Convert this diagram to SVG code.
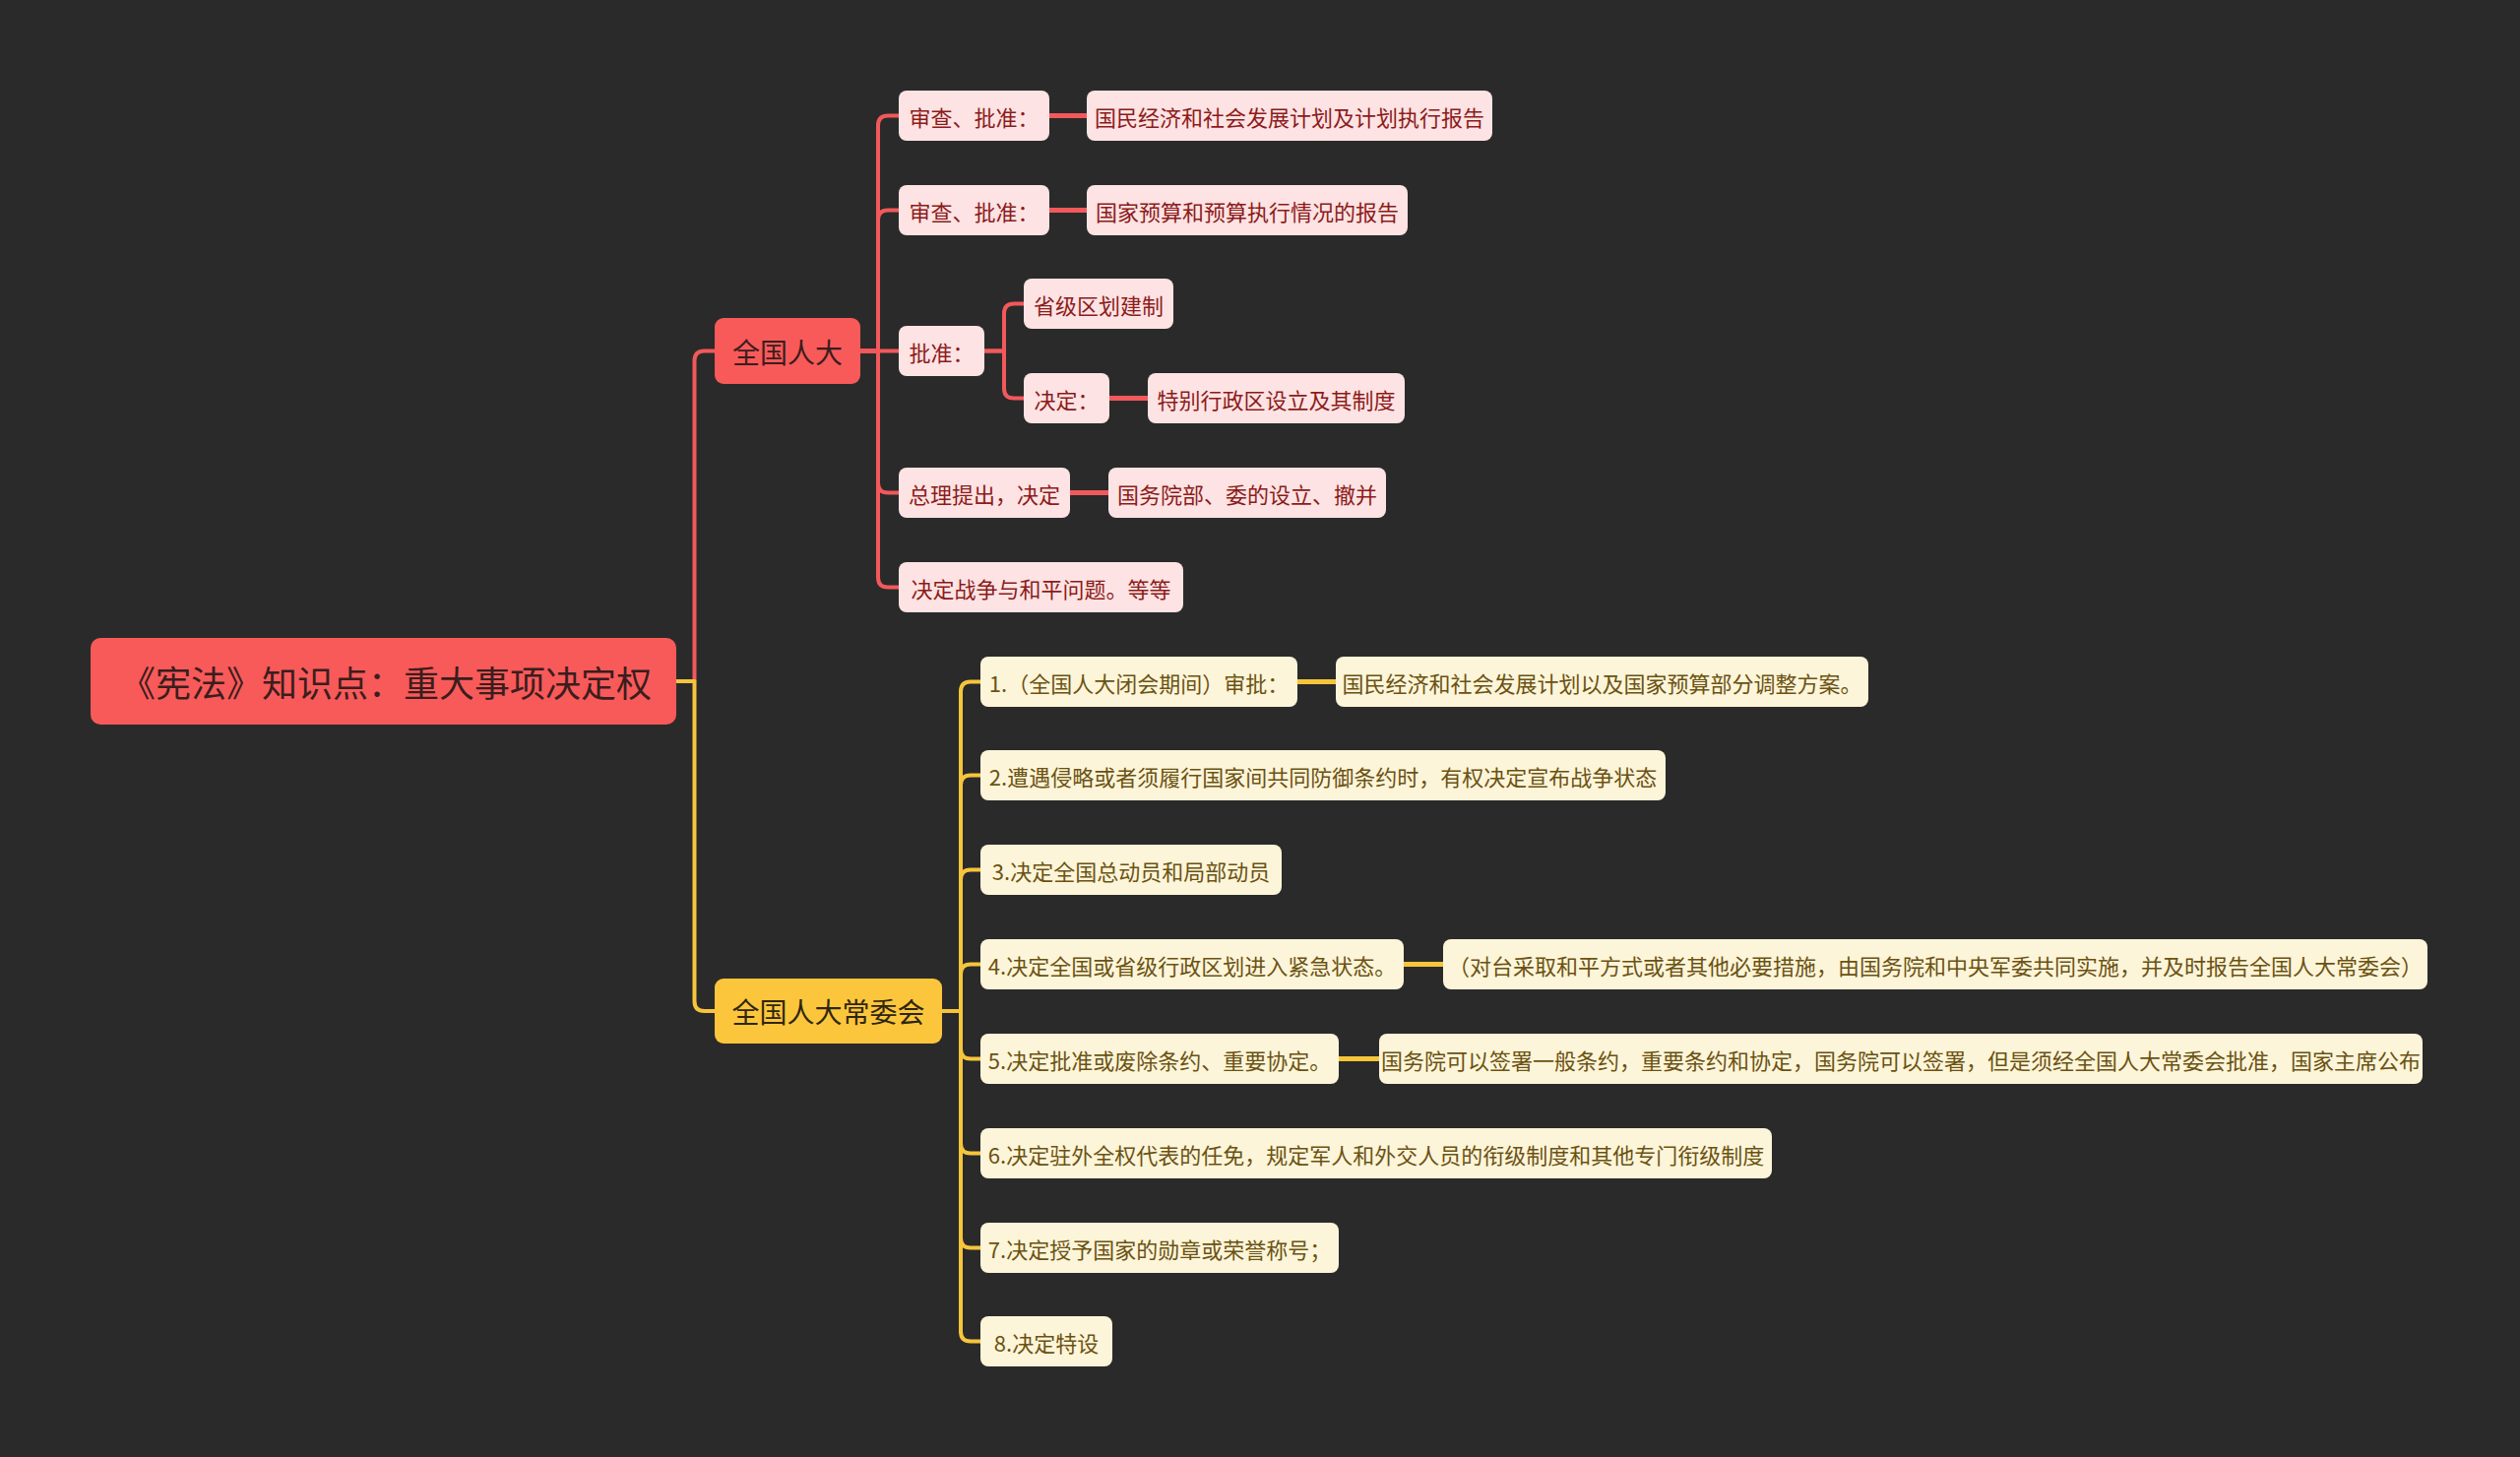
<svg xmlns="http://www.w3.org/2000/svg" width="2560" height="1480" viewBox="0 0 2560 1480">
<style>
text{font-family:"Noto Sans CJK SC","Noto Sans",sans-serif;dominant-baseline:central;text-anchor:middle}
.root rect{fill:#f85a5a}
.root text{font-size:36px;fill:#3b1d1d}
.l1r rect{fill:#f85a5a}
.l1r text{font-size:28px;fill:#3b1d1d}
.l1y rect{fill:#fcc63c}
.l1y text{font-size:28px;fill:#2f2610}
.pk rect{fill:#fde3e3}
.pk text{font-size:22px;fill:#8c1b1b}
.yl rect{fill:#fdf5d9}
.yl text{font-size:22px;fill:#6b5213}
.cr{fill:none;stroke:#f2595b;stroke-width:4;stroke-linejoin:round}
.cy{fill:none;stroke:#f6c53b;stroke-width:4;stroke-linejoin:round}
.thick{stroke-width:5}
</style>
<rect x="0" y="0" width="2560" height="1480" fill="#2a2a2a"/>
<g id="connectors">
  <!-- root -> 全国人大 -->
  <path class="cr" d="M687 692 H705.5 V366.5 Q705.5 356.5 715.5 356.5 H726"/>
  <!-- root -> 全国人大常委会 -->
  <path class="cy" d="M687 692 H705.5 V1017 Q705.5 1027 715.5 1027 H726"/>
  <!-- 全国人大 children -->
  <path class="cr" d="M874 356.5 H892 V127.5 Q892 117.5 902 117.5 H913"/>
  <path class="cr" d="M874 356.5 H892 V223.5 Q892 213.5 902 213.5 H913"/>
  <path class="cr" d="M874 356.5 H913"/>
  <path class="cr" d="M874 356.5 H892 V490.5 Q892 500.5 902 500.5 H913"/>
  <path class="cr" d="M874 356.5 H892 V586.5 Q892 596.5 902 596.5 H913"/>
  <path class="cr thick" d="M1066 117.5 H1104"/>
  <path class="cr thick" d="M1066 213.5 H1104"/>
  <!-- 批准 children -->
  <path class="cr" d="M1000 356.5 H1020 V318.5 Q1020 308.5 1030 308.5 H1040"/>
  <path class="cr" d="M1000 356.5 H1020 V394.5 Q1020 404.5 1030 404.5 H1040"/>
  <path class="cr thick" d="M1127 404.5 H1166"/>
  <path class="cr thick" d="M1087 500.5 H1126"/>
  <!-- 全国人大常委会 children -->
  <path class="cy" d="M957 1027 H976 V702.5 Q976 692.5 986 692.5 H996"/>
  <path class="cy" d="M957 1027 H976 V797.5 Q976 787.5 986 787.5 H996"/>
  <path class="cy" d="M957 1027 H976 V893.5 Q976 883.5 986 883.5 H996"/>
  <path class="cy" d="M957 1027 H976 V989.5 Q976 979.5 986 979.5 H996"/>
  <path class="cy" d="M957 1027 H976 V1065.5 Q976 1075.5 986 1075.5 H996"/>
  <path class="cy" d="M957 1027 H976 V1161.5 Q976 1171.5 986 1171.5 H996"/>
  <path class="cy" d="M957 1027 H976 V1257.5 Q976 1267.5 986 1267.5 H996"/>
  <path class="cy" d="M957 1027 H976 V1352.5 Q976 1362.5 986 1362.5 H996"/>
  <path class="cy thick" d="M1318 692.5 H1357"/>
  <path class="cy thick" d="M1426 979.5 H1466"/>
  <path class="cy thick" d="M1360 1075.5 H1401"/>
</g>
<g id="root" class="root"><rect x="92" y="648" width="595" height="88" rx="10"/><text x="392" y="692">《宪法》知识点：重大事项决定权</text></g>
<g id="n-qgrd" class="l1r"><rect x="726" y="323" width="148" height="67" rx="9"/><text x="800" y="356.5">全国人大</text></g>
<g id="n-qgrdcwh" class="l1y"><rect x="726" y="994" width="231" height="66" rx="9"/><text x="841.5" y="1027">全国人大常委会</text></g>

<g id="r1" class="pk"><rect x="913" y="92" width="153" height="51" rx="8"/><text x="989.5" y="117.5">审查、批准：</text></g>
<g id="r1a" class="pk"><rect x="1104" y="92" width="412" height="51" rx="8"/><text x="1310" y="117.5">国民经济和社会发展计划及计划执行报告</text></g>
<g id="r2" class="pk"><rect x="913" y="188" width="153" height="51" rx="8"/><text x="989.5" y="213.5">审查、批准：</text></g>
<g id="r2a" class="pk"><rect x="1104" y="188" width="326" height="51" rx="8"/><text x="1267" y="213.5">国家预算和预算执行情况的报告</text></g>
<g id="r3" class="pk"><rect x="913" y="331" width="87" height="51" rx="8"/><text x="956.5" y="356.5">批准：</text></g>
<g id="r3a" class="pk"><rect x="1040" y="283" width="152" height="51" rx="8"/><text x="1116" y="308.5">省级区划建制</text></g>
<g id="r3b" class="pk"><rect x="1040" y="379" width="87" height="51" rx="8"/><text x="1083.5" y="404.5">决定：</text></g>
<g id="r3b1" class="pk"><rect x="1166" y="379" width="261" height="51" rx="8"/><text x="1296.5" y="404.5">特别行政区设立及其制度</text></g>
<g id="r4" class="pk"><rect x="913" y="475" width="174" height="51" rx="8"/><text x="1000" y="500.5">总理提出，决定</text></g>
<g id="r4a" class="pk"><rect x="1126" y="475" width="282" height="51" rx="8"/><text x="1267" y="500.5">国务院部、委的设立、撤并</text></g>
<g id="r5" class="pk"><rect x="913" y="571" width="289" height="51" rx="8"/><text x="1057.5" y="596.5">决定战争与和平问题。等等</text></g>

<g id="y1" class="yl"><rect x="996" y="667" width="322" height="51" rx="8"/><text x="1157" y="692.5">1.（全国人大闭会期间）审批：</text></g>
<g id="y1a" class="yl"><rect x="1357" y="667" width="541" height="51" rx="8"/><text x="1627.5" y="692.5">国民经济和社会发展计划以及国家预算部分调整方案。</text></g>
<g id="y2" class="yl"><rect x="996" y="762" width="696" height="51" rx="8"/><text x="1344" y="787.5">2.遭遇侵略或者须履行国家间共同防御条约时，有权决定宣布战争状态</text></g>
<g id="y3" class="yl"><rect x="996" y="858" width="306" height="51" rx="8"/><text x="1149" y="883.5">3.决定全国总动员和局部动员</text></g>
<g id="y4" class="yl"><rect x="996" y="954" width="430" height="51" rx="8"/><text x="1211" y="979.5">4.决定全国或省级行政区划进入紧急状态。</text></g>
<g id="y4a" class="yl"><rect x="1466" y="954" width="1000" height="51" rx="8"/><text x="1966" y="979.5">（对台采取和平方式或者其他必要措施，由国务院和中央军委共同实施，并及时报告全国人大常委会）</text></g>
<g id="y5" class="yl"><rect x="996" y="1050" width="364" height="51" rx="8"/><text x="1178" y="1075.5">5.决定批准或废除条约、重要协定。</text></g>
<g id="y5a" class="yl"><rect x="1401" y="1050" width="1060" height="51" rx="8"/><text x="1931" y="1075.5">国务院可以签署一般条约，重要条约和协定，国务院可以签署，但是须经全国人大常委会批准，国家主席公布</text></g>
<g id="y6" class="yl"><rect x="996" y="1146" width="804" height="51" rx="8"/><text x="1398" y="1171.5">6.决定驻外全权代表的任免，规定军人和外交人员的衔级制度和其他专门衔级制度</text></g>
<g id="y7" class="yl"><rect x="996" y="1242" width="364" height="51" rx="8"/><text x="1178" y="1267.5">7.决定授予国家的勋章或荣誉称号；</text></g>
<g id="y8" class="yl"><rect x="996" y="1337" width="134" height="51" rx="8"/><text x="1063" y="1362.5">8.决定特设</text></g>
</svg>
